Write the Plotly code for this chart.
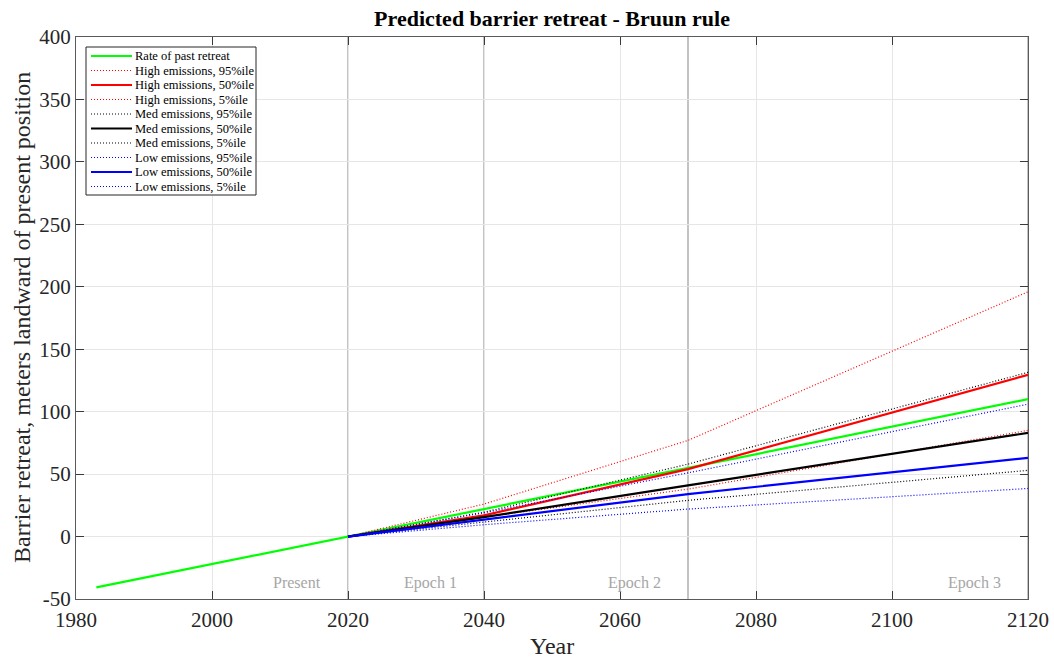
import plotly.graph_objects as go

# ---- data ----
past_years = [1983, 2120]
past_retreat = [-40.7, 110.0]

proj_years = [2020, 2040, 2070, 2120]
high_95 = [0, 26, 77, 196]
high_50 = [0, 17, 54, 129.5]
high_5 = [0, 15.5, 38, 85]
med_95 = [0, 19.5, 58, 131.5]
med_50 = [0, 15.5, 41, 83]
med_5 = [0, 11.5, 29, 53]
low_95 = [0, 19, 51, 106]
low_50 = [0, 13.5, 34, 63]
low_5 = [0, 9.5, 22, 38.5]

epoch_years = [2020, 2040, 2070, 2120]
epoch_labels = ["Present", "Epoch 1", "Epoch 2", "Epoch 3"]

x_ticks = [1980, 2000, 2020, 2040, 2060, 2080, 2100, 2120]
y_ticks = [-50, 0, 50, 100, 150, 200, 250, 300, 350, 400]
y_tick_labels = ["-50", "0", "50", "100", "150", "200", "250", "300", "350", "400"]

FONT = "Liberation Serif"
DOT = "1px,2px"

# plot area in pixels
L, R, T, B = 76, 1028, 37, 599
W, H = 1054, 659


def px(xp):
    return (xp - L) / (R - L)


def py(yp):
    return (B - yp) / (B - T)


fig = go.Figure()

series = [
    ("Rate of past retreat", past_years, past_retreat, "#00ff00", "solid", 2.2),
    ("High emissions, 95%ile", proj_years, high_95, "#ff0000", DOT, 1.2),
    ("High emissions, 50%ile", proj_years, high_50, "#ff0000", "solid", 2.2),
    ("High emissions, 5%ile", proj_years, high_5, "#ff0000", DOT, 1.2),
    ("Med emissions, 95%ile", proj_years, med_95, "#000000", DOT, 1.2),
    ("Med emissions, 50%ile", proj_years, med_50, "#000000", "solid", 2.2),
    ("Med emissions, 5%ile", proj_years, med_5, "#000000", DOT, 1.2),
    ("Low emissions, 95%ile", proj_years, low_95, "#0000ff", DOT, 1.2),
    ("Low emissions, 50%ile", proj_years, low_50, "#0000ff", "solid", 2.2),
    ("Low emissions, 5%ile", proj_years, low_5, "#0000ff", DOT, 1.2),
]

# epoch vertical lines
for yr in epoch_years:
    fig.add_shape(type="line", xref="x", yref="paper", x0=yr, x1=yr, y0=0, y1=1,
                  line=dict(color="#bdbdbd", width=1.8), layer="below")

for yr, lab in zip(epoch_years, epoch_labels):
    fig.add_annotation(x=yr - 3.7, y=-37, xref="x", yref="y", text=lab, showarrow=False,
                       xanchor="right", yanchor="middle",
                       font=dict(family=FONT, size=16, color="#a6a6a6"))

for name, xs, ys, col, dash, w in series:
    fig.add_trace(go.Scatter(x=xs, y=ys, mode="lines", name=name, showlegend=False,
                             line=dict(color=col, dash=dash, width=w)))

# legend box (drawn manually to match compact MATLAB legend)
fig.add_shape(type="rect", xref="paper", yref="paper",
              x0=px(86), x1=px(256), y0=py(195), y1=py(47),
              line=dict(color="#262626", width=1), fillcolor="white", layer="above")
row0, step = 56, 14.5
for i, (name, xs, ys, col, dash, w) in enumerate(series):
    yy = py(row0 + i * step)
    fig.add_shape(type="line", xref="paper", yref="paper",
                  x0=px(91), x1=px(132), y0=yy, y1=yy,
                  line=dict(color=col, dash=dash, width=w), layer="above")
    fig.add_annotation(x=px(133), y=yy, xref="paper", yref="paper", text=name,
                       showarrow=False, xanchor="left", yanchor="middle",
                       font=dict(family=FONT, size=12.5, color="#000000"))

axis_common = dict(
    showgrid=True, gridcolor="#e6e6e6", gridwidth=1,
    showline=True, linecolor="#5a5a5a", linewidth=1, mirror="allticks",
    ticks="inside", ticklen=8, tickcolor="#3a3a3a",
    tickfont=dict(family=FONT, size=21, color="#262626"),
    zeroline=False, automargin=False,
)

# axis titles as annotations (fixed positions)
fig.add_annotation(x=px(22), y=0.5, xref="paper", yref="paper",
                   text="Barrier retreat, meters landward of present position",
                   textangle=-90, showarrow=False, xanchor="center", yanchor="middle",
                   font=dict(family=FONT, size=24, color="#262626"))
fig.add_annotation(x=0.5, y=py(646), xref="paper", yref="paper", text="Year",
                   showarrow=False, xanchor="center", yanchor="middle",
                   font=dict(family=FONT, size=24, color="#262626"))

fig.update_layout(
    width=W, height=H,
    margin=dict(l=L, r=W - R, t=T, b=H - B, autoexpand=False),
    paper_bgcolor="white", plot_bgcolor="white",
    title=dict(text="<b>Predicted barrier retreat - Bruun rule</b>", x=552 / W, xanchor="center",
               y=1 - 18 / H, yanchor="middle", font=dict(family=FONT, size=22, color="#000000")),
    xaxis=dict(range=[1980, 2120], tickvals=x_ticks, ticklabelstandoff=2, **axis_common),
    yaxis=dict(range=[-50, 400], tickvals=y_ticks, ticktext=y_tick_labels, **axis_common),
    showlegend=False,
)

fig.write_html("out.html", config={"displayModeBar": False},
               post_script="document.body.style.margin='0';document.body.style.overflow='hidden';")
